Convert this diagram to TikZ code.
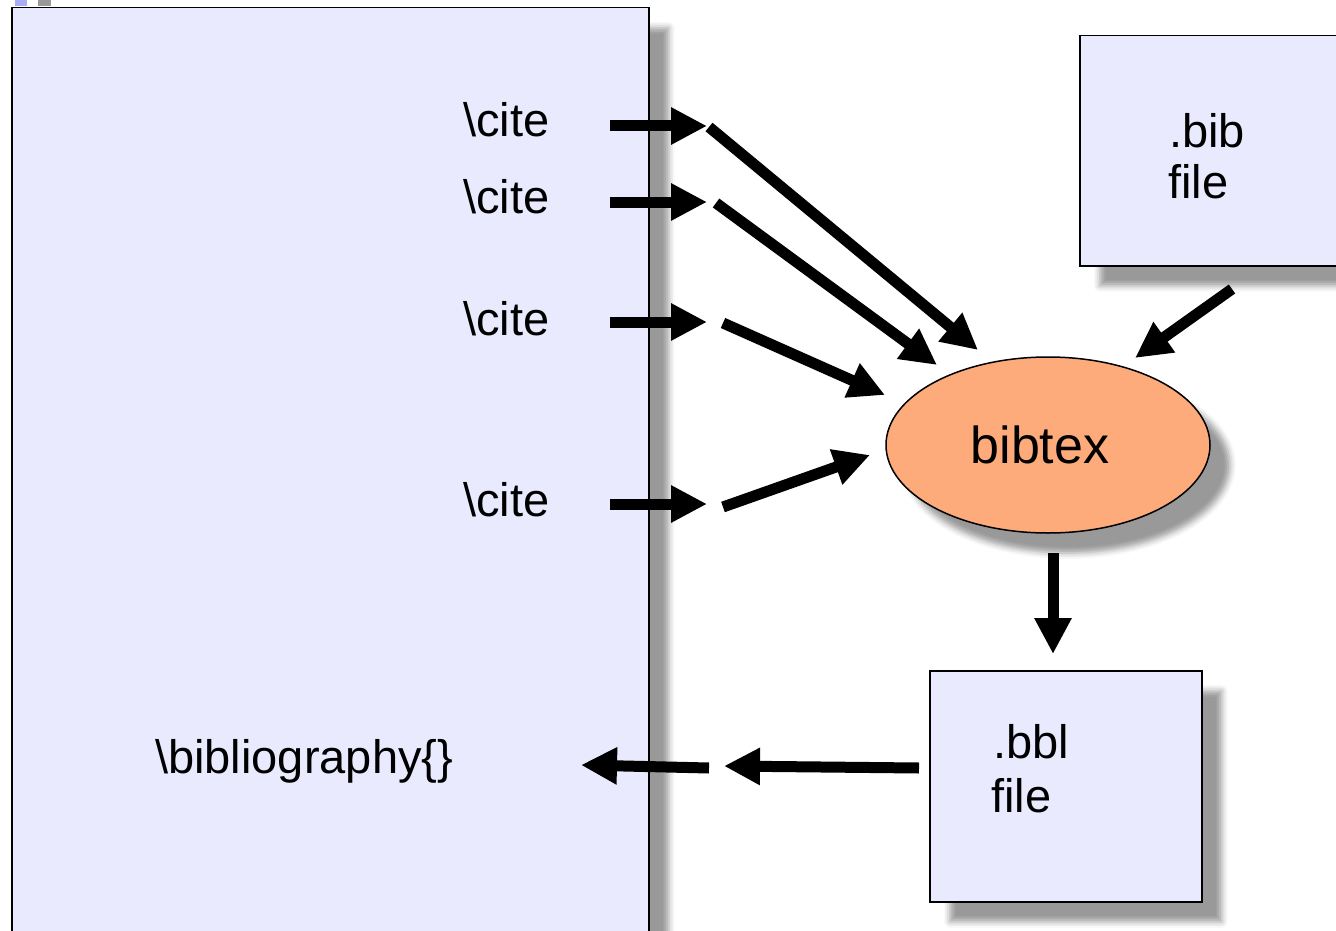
\documentclass[tikz,border=0pt]{standalone}
\usepackage{fontspec}
\setmainfont{Liberation Sans}
\usetikzlibrary{arrows.meta,shapes.geometric,shadows.blur}
\definecolor{boxfill}{HTML}{E9EAFD}
\definecolor{ovalfill}{HTML}{FDAB7B}
\definecolor{shadowgray}{HTML}{999999}
\definecolor{tinyblue}{HTML}{A9ADF7}
\begin{document}
\begin{tikzpicture}[x=1pt,y=-1pt,
  shad/.style={blur shadow={shadow xshift=20pt,shadow yshift=-20pt,shadow blur radius=6pt,shadow opacity=40}},
  filebox/.style={draw=black,line width=1.5pt,fill=boxfill,shad,anchor=north west,inner sep=0pt},
  lbl/.style={font=\fontsize{47}{56}\selectfont,inner sep=0pt,anchor=base west},
  bigarrow/.style={line width=11pt,-{Triangle[length=36pt,width=35pt]}},
  ]
\useasboundingbox (0,0) rectangle (1336,931);
\clip (0,0) rectangle (1336,931);
% tiny cropped marks at the top
\fill[tinyblue] (15,0) rectangle (27,6);
\fill[shadowgray] (38,0) rectangle (51,6);
% main document box
\node (doc) [filebox, minimum width=637pt, minimum height=960pt] at (11,7) {};
% bib file box
\node (bib) [filebox, minimum width=290pt, minimum height=230pt] at (1079,35) {};
\node (bibA) [lbl] at (1169,147) {.bib};
\node (bibB) [lbl] at (1168,198) {file};
% bbl file box
\node (bbl) [filebox, minimum width=272pt, minimum height=231pt] at (929,670) {};
\node (bblA) [lbl] at (993,758) {.bbl};
\node (bblB) [lbl] at (991,812) {file};
% bibtex ellipse
\node (bibtex) [ellipse, draw=black, line width=1.5pt, fill=ovalfill, shad,
  minimum width=324pt, minimum height=176pt, inner sep=0pt,
  font=\fontsize{52}{60}\selectfont] at (1048,445) {\raisebox{-4pt}{bibtex}\kern16pt};
% cite labels
\node (c1) [lbl] at (463,137) {\textbackslash cite};
\node (c2) [lbl] at (463,213) {\textbackslash cite};
\node (c3) [lbl] at (463,335) {\textbackslash cite};
\node (c4) [lbl] at (463,516) {\textbackslash cite};
\node (bibl) [lbl] at (155,773) {\textbackslash bibliography\{\}};
% coordinates for arrow ends
\coordinate (a1s) at (610,126); \coordinate (a1e) at (707,126);
\coordinate (a2s) at (610,202); \coordinate (a2e) at (707,202);
\coordinate (a3s) at (610,322); \coordinate (a3e) at (707,322);
\coordinate (a4s) at (610,504); \coordinate (a4e) at (707,504);
\coordinate (d1s) at (709,127); \coordinate (d1e) at (978,350);
\coordinate (d2s) at (716,203); \coordinate (d2e) at (937,365);
\coordinate (d3s) at (723,323); \coordinate (d3e) at (885,395);
\coordinate (d4s) at (723,507); \coordinate (d4e) at (870,455);
\coordinate (bs) at (1232,289); \coordinate (be) at (1135,358);
\coordinate (ts) at (1053,553); \coordinate (te) at (1053,654);
\coordinate (ls) at (919,768); \coordinate (le) at (724,766);
\coordinate (ms) at (709,768); \coordinate (me) at (581,765);
% arrows
\draw[bigarrow] (a1s) -- (a1e);
\draw[bigarrow] (a2s) -- (a2e);
\draw[bigarrow] (a3s) -- (a3e);
\draw[bigarrow] (a4s) -- (a4e);
\draw[bigarrow] (d1s) -- (d1e);
\draw[bigarrow] (d2s) -- (d2e);
\draw[bigarrow] (d3s) -- (d3e);
\draw[bigarrow] (d4s) -- (d4e);
\draw[bigarrow] (bs) -- (be);
\draw[bigarrow] (ts) -- (te);
\draw[bigarrow] (ls) -- (le);
\draw[bigarrow] (ms) -- (me);
\end{tikzpicture}
\end{document}
